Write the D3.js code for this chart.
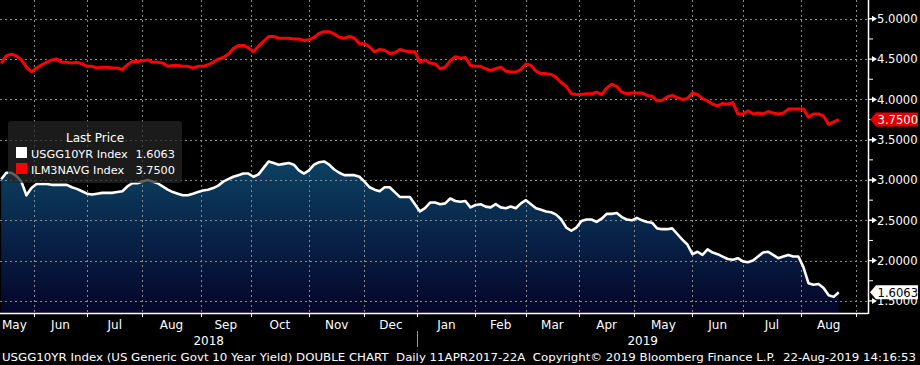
<!DOCTYPE html>
<html><head><meta charset="utf-8">
<script src="https://cdn.jsdelivr.net/npm/d3@7"></script>
<style>html,body{margin:0;padding:0;background:#000;overflow:hidden}text{white-space:pre}</style>
</head><body><svg id="c" width="920" height="365"></svg>
<script>
// ---- data ----
const startDate = "2018-05-15";
const endDate = "2019-08-22";
const sampleEvery = 2; // one reading every 2nd trading day
const usgg10yr = [
3.01,3.09,3.09,3.05,2.98,2.81,2.90,2.95,2.95,2.95,
2.94,2.94,2.94,2.94,2.91,2.89,2.86,2.83,2.82,2.83,
2.84,2.84,2.84,2.85,2.86,2.92,2.96,2.96,2.98,3.00,
2.98,2.96,2.92,2.88,2.85,2.83,2.81,2.81,2.83,2.85,
2.87,2.88,2.90,2.93,2.98,3.01,3.04,3.06,3.08,3.08,
3.04,3.07,3.15,3.23,3.21,3.19,3.20,3.21,3.19,3.12,
3.08,3.12,3.19,3.22,3.23,3.19,3.13,3.09,3.06,3.06,
3.06,3.04,2.98,2.91,2.88,2.86,2.91,2.91,2.85,2.79,
2.79,2.79,2.70,2.61,2.65,2.72,2.72,2.70,2.71,2.77,
2.74,2.73,2.74,2.66,2.69,2.70,2.67,2.66,2.70,2.66,
2.65,2.67,2.65,2.71,2.75,2.70,2.65,2.63,2.61,2.60,
2.57,2.51,2.41,2.37,2.41,2.49,2.51,2.51,2.48,2.52,
2.58,2.58,2.59,2.54,2.51,2.50,2.53,2.50,2.48,2.47,
2.40,2.39,2.39,2.40,2.33,2.26,2.20,2.08,2.11,2.07,
2.14,2.10,2.08,2.05,2.02,2.01,2.03,1.99,1.98,2.00,
2.05,2.10,2.11,2.07,2.03,2.05,2.07,2.05,2.05,1.92,
1.72,1.70,1.71,1.66,1.57,1.55,1.6063];
const ilm3navg = [
4.45,4.54,4.56,4.54,4.49,4.40,4.34,4.39,4.43,4.46,
4.49,4.50,4.46,4.46,4.45,4.46,4.44,4.41,4.41,4.39,
4.40,4.40,4.39,4.39,4.37,4.43,4.47,4.47,4.48,4.49,
4.46,4.46,4.45,4.41,4.42,4.42,4.41,4.41,4.39,4.41,
4.41,4.43,4.46,4.50,4.52,4.56,4.63,4.67,4.67,4.64,
4.59,4.66,4.72,4.78,4.78,4.76,4.76,4.76,4.75,4.75,
4.73,4.74,4.77,4.82,4.84,4.84,4.81,4.77,4.76,4.78,
4.76,4.69,4.69,4.65,4.59,4.62,4.61,4.57,4.58,4.62,
4.60,4.59,4.59,4.46,4.49,4.45,4.44,4.38,4.40,4.48,
4.53,4.51,4.52,4.42,4.41,4.41,4.38,4.36,4.38,4.40,
4.35,4.34,4.34,4.37,4.44,4.42,4.35,4.32,4.32,4.31,
4.27,4.21,4.16,4.07,4.06,4.06,4.07,4.07,4.09,4.06,
4.14,4.19,4.16,4.09,4.07,4.08,4.08,4.08,4.05,4.04,
3.98,3.99,4.03,4.05,4.02,4.00,4.01,4.08,4.06,4.01,
3.98,3.94,3.92,3.95,3.94,3.96,3.82,3.82,3.86,3.82,
3.83,3.82,3.85,3.83,3.82,3.83,3.88,3.88,3.88,3.88,
3.78,3.82,3.82,3.79,3.69,3.72,3.75];
const lastLabels = ["1.6063", "3.7500"];
const seriesNames = ["USGG10YR Index", "ILM3NAVG Index"];
const yMajor = [1.5, 2, 2.5, 3, 3.5, 4, 4.5, 5];
const yMinor = [1.75, 2.25, 2.75, 3.25, 3.75, 4.25, 4.75];
const monthNames = ["Jan","Feb","Mar","Apr","May","Jun","Jul","Aug","Sep","Oct","Nov","Dec"];
const footer = "USGG10YR Index (US Generic Govt 10 Year Yield) DOUBLE CHART  Daily 11APR2017-22A  Copyright\u00A9 2019 Bloomberg Finance L.P.  22-Aug-2019 14:16:53";

// ---- layout ----
const W = 920, plotR = 868, plotB = 313;
const svg = d3.select("#c");
const parse = d3.utcParse("%Y-%m-%d");
const axisEnd = d3.utcDay.offset(parse(endDate), 25);
const days = d3.utcDay.range(parse(startDate), axisEnd).filter(d => d.getUTCDay() % 6 !== 0);
const idxOf = new Map(days.map((d, i) => [+d, i]));
const x = d3.scaleLinear().domain([-0.48, 343.6]).range([0, plotR]);
const y = d3.scaleLinear().domain([5, 1.5]).range([18.8, 300.9]);

const sampleIdx = usgg10yr.map((_, k) => k * sampleEvery);

const defs = svg.append("defs");
const g = defs.append("linearGradient").attr("id", "ag").attr("gradientUnits", "userSpaceOnUse")
  .attr("x1", 0).attr("x2", 0).attr("y1", 160).attr("y2", plotB);
g.append("stop").attr("offset", 0).attr("stop-color", "#0c4262");
g.append("stop").attr("offset", 0.45).attr("stop-color", "#08264a");
g.append("stop").attr("offset", 1).attr("stop-color", "#04052a");
defs.append("clipPath").attr("id", "pc").append("rect").attr("x", 0).attr("y", 0).attr("width", plotR).attr("height", plotB);

svg.append("rect").attr("width", W).attr("height", 365).attr("fill", "#000");

const plot = svg.append("g").attr("clip-path", "url(#pc)");

// area under US 10y
plot.append("path").datum(usgg10yr)
  .attr("d", d3.area().x((d, i) => x(sampleIdx[i])).y0(plotB).y1(d => y(d)))
  .attr("fill", "url(#ag)");

// month boundaries
const months = d3.utcMonth.range(d3.utcMonth.ceil(parse(startDate)), axisEnd);
const boundaries = months.map(m => {
  let d = m; while (d.getUTCDay() % 6 === 0) d = d3.utcDay.offset(d, 1);
  return { m, i: idxOf.get(+d) };
}).filter(b => b.i !== undefined && x(b.i) < plotR);

// grid
const grid = plot.append("g").attr("stroke", "#8a8a8a").attr("stroke-width", 1).attr("stroke-dasharray", "2,3");
grid.selectAll(".v").data(boundaries).join("line")
  .attr("x1", b => Math.round(x(b.i)) + 0.5).attr("x2", b => Math.round(x(b.i)) + 0.5)
  .attr("y1", 0).attr("y2", plotB);
grid.selectAll(".h").data(yMajor).join("line")
  .attr("x1", 0).attr("x2", plotR)
  .attr("y1", d => Math.round(y(d)) + 0.5).attr("y2", d => Math.round(y(d)) + 0.5);

// lines
const line = d3.line().x((d, i) => x(sampleIdx[i])).y(d => y(d));
plot.append("path").datum(usgg10yr).attr("d", line)
  .attr("fill", "none").attr("stroke", "#fff").attr("stroke-width", 2.6).attr("stroke-linejoin", "round");
plot.append("path").datum(ilm3navg).attr("d", line)
  .attr("fill", "none").attr("stroke", "#f00").attr("stroke-width", 3).attr("stroke-linejoin", "round");

// axes lines
svg.append("line").attr("x1", plotR + 0.5).attr("x2", plotR + 0.5).attr("y1", 0).attr("y2", plotB + 1).attr("stroke", "#fff").attr("stroke-width", 1.5);
svg.append("line").attr("x1", 0).attr("x2", plotR).attr("y1", plotB + 0.5).attr("y2", plotB + 0.5).attr("stroke", "#fff").attr("stroke-width", 1.5);

// right axis ticks / labels
const font = "DejaVu Sans";
const ax = svg.append("g");
ax.selectAll(".mn").data(yMinor).join("line")
  .attr("x1", plotR).attr("x2", plotR + 5).attr("y1", d => y(d)).attr("y2", d => y(d))
  .attr("stroke", "#fff").attr("stroke-width", 1);
ax.selectAll(".mj").data(yMajor).join("path")
  .attr("d", d => { const yy = y(d); return `M${plotR},${yy - 0.7}L${plotR + 4},${yy - 0.7}L${plotR + 4},${yy - 3}L${plotR + 9},${yy}L${plotR + 4},${yy + 3}L${plotR + 4},${yy + 0.7}L${plotR},${yy + 0.7}Z`; })
  .attr("fill", "#fff");
ax.selectAll("text").data(yMajor).join("text")
  .attr("x", plotR + 9).attr("y", d => y(d) + 4.3)
  .attr("fill", "#fff").attr("font-family", font).attr("font-size", 11.6)
  .text(d => d3.format(".4f")(d));

// last value tags
function tag(v, label, fill, color) {
  const yy = y(v);
  svg.append("path").attr("d", `M${plotR + 2},${yy}L${plotR + 8},${yy - 7}L${W - 2},${yy - 7}L${W - 2},${yy + 7}L${plotR + 8},${yy + 7}Z`).attr("fill", fill);
  svg.append("text").attr("x", plotR + 9.5).attr("y", yy + 4.4).attr("fill", color)
    .attr("font-family", font).attr("font-size", 11.6).text(label);
}
tag(usgg10yr[usgg10yr.length - 1], lastLabels[0], "#fff", "#000");
tag(ilm3navg[ilm3navg.length - 1], lastLabels[1], "#e00000", "#fff");

// x axis: ticks, months, years
svg.selectAll(".xt").data(boundaries).join("line")
  .attr("x1", b => Math.round(x(b.i)) + 0.5).attr("x2", b => Math.round(x(b.i)) + 0.5)
  .attr("y1", plotB).attr("y2", plotB + 4).attr("stroke", "#fff").attr("stroke-width", 1);

const labelMonths = [{ m: d3.utcMonth.floor(parse(startDate)), x0: 0 }].concat(boundaries.map(b => ({ m: b.m, x0: x(b.i) })));
labelMonths.forEach((lm, j) => {
  const x1 = j + 1 < labelMonths.length ? labelMonths[j + 1].x0 : plotR;
  if (lm.x0 >= plotR - 20) return;
  const first = j === 0;
  svg.append("text")
    .attr("x", first ? 2 : (lm.x0 + x1) / 2)
    .attr("text-anchor", first ? "start" : "middle")
    .attr("y", 329).attr("fill", "#fff").attr("font-family", font).attr("font-size", 12)
    .text(monthNames[lm.m.getUTCMonth()]);
});
const janB = boundaries.find(b => b.m.getUTCMonth() === 0);
const xJan = x(janB.i);
svg.append("line").attr("x1", Math.round(xJan) + 0.5).attr("x2", Math.round(xJan) + 0.5)
  .attr("y1", 331).attr("y2", 347).attr("stroke", "#9a9a9a").attr("stroke-width", 1);
[["2018", xJan / 2], ["2019", (xJan + plotR) / 2]].forEach(([t, xx]) =>
  svg.append("text").attr("x", xx).attr("y", 345).attr("text-anchor", "middle")
    .attr("fill", "#fff").attr("font-family", font).attr("font-size", 12).text(t));

// footer
svg.append("text").attr("x", 2).attr("y", 361).attr("fill", "#fff")
  .attr("font-family", font).attr("font-size", 11.2)
  .attr("textLength", 914).attr("lengthAdjust", "spacingAndGlyphs").text(footer);

// legend
const lg = svg.append("g");
lg.append("rect").attr("x", 8).attr("y", 121).attr("width", 174).attr("height", 62).attr("rx", 3)
  .attr("fill", "#262626").attr("fill-opacity", 0.72);
lg.append("text").attr("x", 95).attr("y", 142).attr("text-anchor", "middle").attr("fill", "#fff")
  .attr("font-family", font).attr("font-size", 12).text("Last Price");
[[usgg10yr, "#fff", 0], [ilm3navg, "#f00", 1]].forEach(([s, c, j]) => {
  const yy = 147 + j * 16;
  lg.append("rect").attr("x", 16).attr("y", yy).attr("width", 11).attr("height", 11).attr("fill", c);
  lg.append("text").attr("x", 31).attr("y", yy + 10.5).attr("fill", "#fff").attr("font-family", font).attr("font-size", 11.3).text(seriesNames[j]);
  lg.append("text").attr("x", 175).attr("y", yy + 10.5).attr("text-anchor", "end").attr("fill", "#fff").attr("font-family", font).attr("font-size", 11.3).text(lastLabels[j]);
});
</script></body></html>
